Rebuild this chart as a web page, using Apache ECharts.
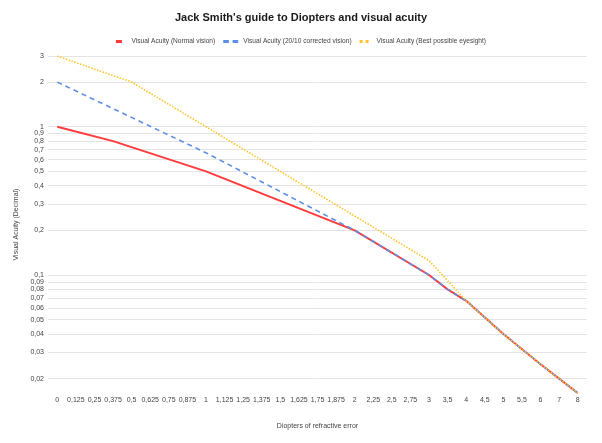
<!DOCTYPE html>
<html style="height: 100%">

<head>
  <meta charset="UTF-8" />
  <title>Diopters and visual acuity</title>
  <script src="https://cdn.jsdelivr.net/npm/echarts@6/dist/echarts.min.js"></script>
</head>

<body style="height: 100%; margin: 0; background: #fff">
  <div id="container" style="width: 602px; height: 443px"></div>
  <script>
    const diopters = ['0', '0,125', '0,25', '0,375', '0,5', '0,625', '0,75', '0,875', '1',
      '1,125', '1,25', '1,375', '1,5', '1,625', '1,75', '1,875', '2',
      '2,25', '2,5', '2,75', '3', '3,5', '4', '4,5', '5', '5,5', '6', '7', '8'];

    // null = no point, line is drawn straight across (connectNulls)
    const normalVision = [1, null, null, 0.8, null, null, null, null, 0.5,
      null, null, null, null, null, null, null, 0.2,
      null, null, null, 0.1, 0.08, 0.067, null, 0.04, null, 0.025, 0.02, 0.016];
    const correctedVision = [2, null, null, null, null, null, null, null, 0.667,
      null, null, null, null, null, null, null, 0.2,
      null, null, null, 0.1, 0.08, 0.067, null, 0.04, null, 0.025, 0.02, 0.016];
    const bestVision = [3, null, null, null, 2, null, null, null, null,
      null, null, null, null, null, null, null, null,
      null, null, null, 0.125, null, 0.067, null, 0.04, null, 0.025, 0.02, 0.016];

    const yTicks = [0.02, 0.03, 0.04, 0.05, 0.06, 0.07, 0.08, 0.09,
      0.1, 0.2, 0.3, 0.4, 0.5, 0.6, 0.7, 0.8, 0.9, 1, 2, 3];

    const seriesNames = ['Visual Acuity (Normal vision)',
      'Visual Acuity (20/10 corrected vision)',
      'Visual Acuity (Best possible eyesight)'];

    const font = 'Liberation Sans';
    const chart = echarts.init(document.getElementById('container'), null, { renderer: 'canvas' });

    const line = (name, data, color, width, type) => ({
      name: name,
      type: 'line',
      data: data,
      connectNulls: true,
      symbol: 'none',
      lineStyle: { color: color, width: width, type: type },
      itemStyle: { color: color }
    });

    chart.setOption({
      animation: false,
      textStyle: { fontFamily: font },
      title: {
        text: "Jack Smith's guide to Diopters and visual acuity",
        left: 'center',
        top: 12,
        padding: 0,
        textStyle: { fontSize: 11, fontWeight: 'bold', color: '#1a1a1a', fontFamily: font }
      },
      legend: {
        top: 38,
        left: 'center',
        itemWidth: 15,
        itemHeight: 3,
        itemGap: 8,
        padding: 0,
        symbolKeepAspect: true,
        data: [
          { name: seriesNames[0], icon: 'path://M0,0H6V3H0Z' },
          { name: seriesNames[1], icon: 'path://M0,0H6V3H0Z M10,0H16V3H10Z' },
          { name: seriesNames[2], icon: 'path://M0,0H2V2H0Z M4,0H6V2H4Z' }
        ],
        textStyle: { fontSize: 6.6, color: '#444', fontFamily: font }
      },
      grid: { left: 48, right: 15, top: 56, bottom: 50 },
      xAxis: {
        type: 'category',
        data: diopters,
        boundaryGap: true,
        name: 'Diopters of refractive error',
        nameLocation: 'middle',
        nameGap: 30,
        nameTextStyle: { fontSize: 7, color: '#444' },
        axisLine: { show: false },
        axisTick: { show: false },
        axisLabel: { interval: 0, fontSize: 7, color: '#444', margin: 4 },
        splitLine: { show: false }
      },
      yAxis: {
        type: 'log',
        logBase: 10,
        min: 0.016,
        max: 3,
        name: 'Visual Acuity (Decimal)',
        nameLocation: 'middle',
        nameGap: 23,
        nameTextStyle: { fontSize: 7, color: '#444' },
        axisLine: { show: false },
        axisTick: { show: false, customValues: yTicks },
        axisLabel: {
          customValues: yTicks,
          fontSize: 7,
          color: '#444',
          margin: 4,
          formatter: v => String(v).replace('.', ',')
        },
        splitLine: { show: true, lineStyle: { color: '#e4e4e4', width: 1 } }
      },
      series: [
        line(seriesNames[0], normalVision, '#ff3b3b', 2, 'solid'),
        line(seriesNames[1], correctedVision, '#5b8fe8', 1.6, [5, 4]),
        line(seriesNames[2], bestVision, '#ffc42b', 1.6, [1.5, 1.5])
      ]
    });
  </script>
</body>

</html>
